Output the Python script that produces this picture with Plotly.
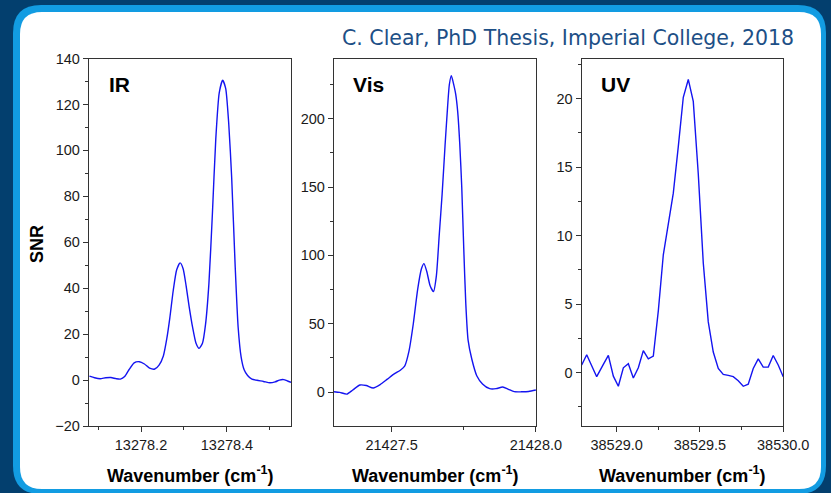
import plotly.graph_objects as go
from plotly.subplots import make_subplots

W, H = 831, 493

# ---------------- data ----------------
ir_x = [13278.080, 13278.092, 13278.105, 13278.118, 13278.130, 13278.142, 13278.152, 13278.162,
        13278.172, 13278.184, 13278.196, 13278.208, 13278.220, 13278.232, 13278.242, 13278.252,
        13278.260, 13278.267, 13278.275, 13278.283, 13278.291, 13278.298, 13278.305, 13278.312,
        13278.320, 13278.328, 13278.335, 13278.343, 13278.350, 13278.358, 13278.366, 13278.374,
        13278.382, 13278.390, 13278.397, 13278.404, 13278.411, 13278.419, 13278.426, 13278.433,
        13278.440, 13278.448, 13278.458, 13278.470, 13278.485, 13278.500, 13278.512, 13278.522,
        13278.532, 13278.541, 13278.549]
ir_y = [1.7, 1.0, 0.6, 1.0, 1.1, 0.6, 0.4, 1.5,
        4.5, 7.5, 8.0, 7.0, 5.2, 4.8, 6.5, 10.5,
        18, 27, 39, 48, 51, 48.5, 41, 32,
        23, 16, 13.8, 16, 24, 42, 72, 105,
        125, 130.5, 127, 112, 88, 50, 23, 10,
        4.5, 2.0, 0.4, -0.1, -0.6, -1.2, -0.8, 0.0,
        0.2, -0.4, -1.0]

vis_x = [21427.300, 21427.320, 21427.344, 21427.365, 21427.390, 21427.412, 21427.436, 21427.460,
         21427.485, 21427.510, 21427.530, 21427.545, 21427.560, 21427.575, 21427.590, 21427.603,
         21427.612, 21427.622, 21427.633, 21427.645, 21427.655, 21427.665, 21427.675, 21427.685,
         21427.694, 21427.700, 21427.707, 21427.714, 21427.722, 21427.729, 21427.736, 21427.743,
         21427.750, 21427.757, 21427.765, 21427.778, 21427.795, 21427.815, 21427.840, 21427.862,
         21427.885, 21427.905, 21427.925, 21427.950, 21427.975, 21428.000]
vis_y = [0.3, -0.2, -1.5, 1.5, 5.2, 4.8, 3.0, 5.5,
         9.5, 13.5, 16, 19, 30, 50, 75, 90,
         94, 88, 78, 73.5, 85, 115, 145, 180,
         209, 225, 231.5, 226, 218, 205, 182, 150,
         105, 65, 38, 24, 12, 6, 2.5, 2.5,
         3.7, 2.0, 0.3, 0.2, 0.4, 1.5]

uv_x = [38528.79, 38528.82, 38528.85, 38528.88, 38528.92, 38528.95, 38528.98, 38529.01,
        38529.04, 38529.07, 38529.10, 38529.13, 38529.16, 38529.19, 38529.22, 38529.25,
        38529.28, 38529.31, 38529.34, 38529.37, 38529.40, 38529.43, 38529.46, 38529.49,
        38529.52, 38529.55, 38529.58, 38529.61, 38529.64, 38529.67, 38529.70, 38529.73,
        38529.76, 38529.79, 38529.82, 38529.85, 38529.88, 38529.91, 38529.94, 38529.97,
        38530.00]
uv_y = [0.55, 1.3, 0.5, -0.3, 0.6, 1.25, -0.26, -1.0,
        0.35, 0.65, -0.4, 0.35, 1.6, 1.0, 1.2, 4.5,
        8.6, 10.8, 13.1, 16.5, 20.1, 21.4, 19.8, 14.5,
        8.0, 3.7, 1.5, 0.3, -0.13, -0.2, -0.3, -0.6,
        -1.0, -0.85, 0.3, 1.0, 0.4, 0.4, 1.25, 0.55,
        -0.3]

panel_labels = ["IR", "Vis", "UV"]
x_title = "Wavenumber (cm<sup>-1</sup>)"
y_title = "SNR"
credit = "C. Clear, PhD Thesis, Imperial College, 2018"

# ---------------- layout helpers ----------------
def px(x):
    return x / W

def py(y):
    return 1 - y / H

def rrect(x0, y0, x1, y1, r):
    rx, ry = r / W, r / H
    X0, X1 = px(x0), px(x1)
    Y0, Y1 = py(y0), py(y1)  # Y0 top (larger), Y1 bottom
    return (f"M {X0+rx},{Y0} L {X1-rx},{Y0} Q {X1},{Y0} {X1},{Y0-ry} "
            f"L {X1},{Y1+ry} Q {X1},{Y1} {X1-rx},{Y1} "
            f"L {X0+rx},{Y1} Q {X0},{Y1} {X0},{Y1+ry} "
            f"L {X0},{Y0-ry} Q {X0},{Y0} {X0+rx},{Y0} Z")

FONT = "Liberation Sans, Arial, sans-serif"
LINE = "#333333"
BLUE = "#1414f0"

fig = make_subplots(rows=1, cols=3)

series = [(ir_x, ir_y, "spline"), (vis_x, vis_y, "spline"), (uv_x, uv_y, "linear")]
for i, (xs, ys, shape) in enumerate(series, start=1):
    fig.add_trace(go.Scatter(x=xs, y=ys, mode="lines",
                             line=dict(color=BLUE, width=1.4, shape=shape, smoothing=0.6),
                             showlegend=False, hoverinfo="skip"), row=1, col=i)

ytop, ybot = 58.5, 426
doms_x = [(89, 291), (334, 536), (581.7, 783.3)]
x_ranges = [[13278.079, 13278.549], [21427.3, 21428.0005], [38528.79, 38530.0005]]
x_dticks = [0.2, 0.5, 0.5]
x_tick0 = [13278.2, 21427.5, 38529.0]
y_ranges = [[-20, 140], [-24.8, 244], [-3.9, 22.93]]
y_dticks = [20, 50, 5]

common = dict(showline=True, linecolor=LINE, linewidth=1.3, mirror=True,
              ticks="outside", ticklen=5, tickwidth=1.2, tickcolor=LINE,
              showgrid=False, zeroline=False, automargin=False,
              tickfont=dict(family=FONT, size=14.5, color="#1a1a1a"))

for i in range(3):
    fig.update_xaxes(domain=[px(doms_x[i][0]), px(doms_x[i][1])], range=x_ranges[i],
                     dtick=x_dticks[i], tick0=x_tick0[i], tickformat=".1f",
                     minor=dict(ticks="outside", ticklen=3, tickcolor=LINE, dtick=x_dticks[i] / 2,
                                tick0=x_tick0[i]),
                     row=1, col=i + 1, **common)
    fig.update_yaxes(domain=[py(ybot), py(ytop)], range=y_ranges[i], dtick=y_dticks[i], tick0=0,
                     minor=dict(ticks="outside", ticklen=3, tickcolor=LINE, dtick=y_dticks[i] / 2,
                                tick0=0),
                     row=1, col=i + 1, **common)

shapes = [
    dict(type="path", xref="paper", yref="paper", path=rrect(13, 5, 826, 494, 28),
         fillcolor="#129ce2", line=dict(width=0), layer="below"),
    dict(type="path", xref="paper", yref="paper", path=rrect(20, 12, 821, 489, 22),
         fillcolor="#ffffff", line=dict(width=0), layer="below"),
]

annotations = []
lab_pos = [(107, 84), (351, 84), (599, 84)]
for lab, (lx, ly) in zip(panel_labels, lab_pos):
    annotations.append(dict(text=f"<b>{lab}</b>", x=px(lx), y=py(ly), xref="paper", yref="paper",
                            xanchor="left", yanchor="middle", showarrow=False,
                            font=dict(family=FONT, size=21, color="#000000")))
for (a, b) in doms_x:
    annotations.append(dict(text=f"<b>{x_title}</b>", x=px((a + b) / 2), y=py(474),
                            xref="paper", yref="paper", xanchor="center", yanchor="middle",
                            showarrow=False, font=dict(family=FONT, size=18, color="#000000")))
annotations.append(dict(text=f"<b>{y_title}</b>", x=px(37), y=py(244), xref="paper", yref="paper",
                        xanchor="center", yanchor="middle", textangle=-90, showarrow=False,
                        font=dict(family=FONT, size=18, color="#000000")))
annotations.append(dict(text=credit, x=px(796), y=py(38), xref="paper", yref="paper",
                        xanchor="right", yanchor="middle", showarrow=False,
                        font=dict(family="DejaVu Sans, sans-serif", size=20.5, color="#1d4f86")))

fig.update_layout(width=W, height=H, margin=dict(l=0, r=0, t=0, b=0, autoexpand=False),
                  paper_bgcolor="#033f6e", plot_bgcolor="#ffffff",
                  shapes=shapes, annotations=annotations, showlegend=False)

fig.write_html("out.html")
